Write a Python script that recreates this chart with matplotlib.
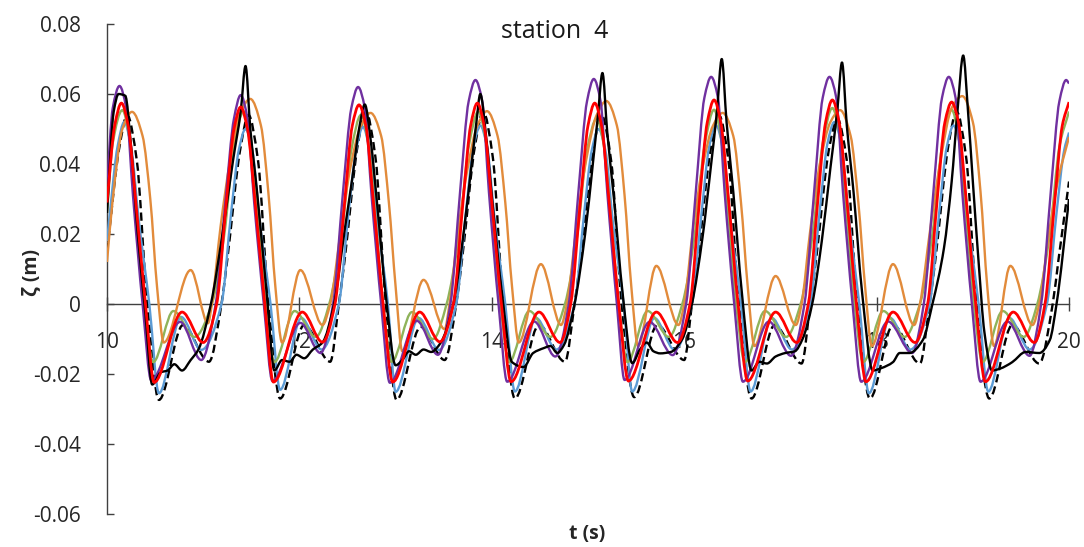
import numpy as np
import matplotlib
matplotlib.use("Agg")
import matplotlib.pyplot as plt
from matplotlib.path import Path
from matplotlib.patches import PathPatch

plt.rcParams["font.family"] = ["Open Sans", "DejaVu Sans"]

# ---- surface elevation records, station 4 (t in s, zeta in m) ----
t_black = [10.00, 10.07, 10.12, 10.19, 10.25, 10.32, 10.40, 10.47, 10.56, 10.63, 10.70, 10.78, 10.87, 10.95, 11.08,
           11.20, 11.31, 11.39, 11.44, 11.49, 11.56, 11.66, 11.74, 11.82, 11.90, 11.97, 12.05, 12.14, 12.24, 12.36,
           12.47, 12.55, 12.62, 12.68, 12.74, 12.81, 12.90, 13.00, 13.07, 13.14, 13.21, 13.29, 13.37, 13.47, 13.60,
           13.71, 13.79, 13.84, 13.88, 13.94, 14.01, 14.11, 14.21, 14.33, 14.43, 14.54, 14.61, 14.68, 14.75, 14.86,
           14.97, 15.05, 15.10, 15.15, 15.20, 15.27, 15.36, 15.46, 15.54, 15.61, 15.68, 15.75, 15.86, 15.98, 16.08,
           16.19, 16.28, 16.34, 16.39, 16.44, 16.51, 16.60, 16.70, 16.78, 16.86, 16.95, 17.05, 17.15, 17.23, 17.33,
           17.43, 17.52, 17.59, 17.64, 17.69, 17.76, 17.85, 17.96, 18.05, 18.17, 18.24, 18.34, 18.48, 18.58,
           18.70, 18.78, 18.84, 18.90, 18.95, 19.00, 19.06, 19.12, 19.20, 19.28, 19.35, 19.41, 19.55, 19.69, 19.80,
           19.87, 20.00]
z_black = [0.026, 0.055, 0.0600, 0.0595, 0.045, 0.020, -0.003, -0.0230, -0.0195, -0.0190, -0.0172, -0.0190, -0.0160, -0.0130, 0.0,
           0.020, 0.041, 0.055, 0.0680, 0.050, 0.032, 0.003, -0.0190, -0.0160, -0.0165, -0.0145, -0.0155, -0.0130, -0.0110, 0.0,
           0.021, 0.036, 0.050, 0.0570, 0.047, 0.028, 0.002, -0.0175, -0.0160, -0.0135, -0.0145, -0.0130, -0.0137, -0.0110, 0.0,
           0.021, 0.040, 0.052, 0.0600, 0.048, 0.028, 0.002, -0.0166, -0.0180, -0.0140, -0.0126, -0.0120, -0.0140, -0.0117, 0.0,
           0.020, 0.040, 0.053, 0.0660, 0.049, 0.030, 0.003, -0.0169, -0.0130, -0.0110, -0.0135, -0.0141, -0.0137, -0.0100, 0.0,
           0.019, 0.040, 0.055, 0.0700, 0.052, 0.032, 0.003, -0.0190, -0.0165, -0.0170, -0.0150, -0.0140, -0.0135, -0.0100, 0.0,
           0.018, 0.039, 0.055, 0.0690, 0.051, 0.032, 0.003, -0.0190, -0.0183, -0.0166, -0.0140, -0.0140, -0.0103, 0.0,
           0.016, 0.035, 0.055, 0.0710, 0.055, 0.035, 0.012, -0.008, -0.0190, -0.0185, -0.0176, -0.0166, -0.0137, -0.0140, -0.0103,
           0.0, 0.0300]

t_dashed = [10.00, 10.13, 10.21, 10.31, 10.41, 10.54, 10.79, 11.06,
            11.19, 11.25, 11.39, 11.47, 11.57, 11.67, 11.80, 12.05, 12.32,
            12.41, 12.47, 12.61, 12.69, 12.79, 12.89, 13.01, 13.26, 13.51,
            13.63, 13.69, 13.83, 13.91, 14.01, 14.11, 14.24, 14.49, 14.76,
            14.86, 14.92, 15.06, 15.14, 15.24, 15.34, 15.48, 15.72, 16.00,
            16.08, 16.14, 16.28, 16.36, 16.46, 16.56, 16.70, 16.94, 17.22,
            17.31, 17.37, 17.51, 17.59, 17.69, 17.79, 17.93, 18.17, 18.45,
            18.55, 18.61, 18.75, 18.83, 18.93, 19.03, 19.17, 19.41, 19.69,
            19.83, 19.89, 20.00]
z_dashed = [0.015, 0.045, 0.054, 0.041, 0.003, -0.0274, -0.0060, -0.0165,
            0.0, 0.0126, 0.045, 0.054, 0.041, 0.003, -0.0270, -0.0060, -0.0165,
            0.0, 0.0126, 0.046, 0.055, 0.042, 0.003, -0.0274, -0.0065, -0.0160,
            0.0, 0.0126, 0.046, 0.055, 0.042, 0.003, -0.0270, -0.0060, -0.0165,
            0.0, 0.0126, 0.045, 0.054, 0.041, 0.003, -0.0266, -0.0060, -0.0160,
            0.0, 0.0126, 0.045, 0.054, 0.041, 0.003, -0.0270, -0.0060, -0.0170,
            0.0, 0.0126, 0.045, 0.053, 0.041, 0.003, -0.0270, -0.0060, -0.0170,
            0.0, 0.0126, 0.046, 0.055, 0.042, 0.003, -0.0270, -0.0060, -0.0170,
            0.0, 0.0126, 0.035]

t_purple = [10.00, 10.06, 10.13, 10.20, 10.27, 10.37, 10.46, 10.76, 10.98,
            11.13, 11.23, 11.32, 11.39, 11.46, 11.53, 11.63, 11.72, 12.01, 12.22,
            12.35, 12.45, 12.54, 12.61, 12.68, 12.75, 12.85, 12.94, 13.22, 13.44,
            13.57, 13.67, 13.76, 13.83, 13.90, 13.97, 14.07, 14.16, 14.44, 14.66,
            14.80, 14.90, 14.99, 15.06, 15.13, 15.20, 15.30, 15.38, 15.64, 15.88,
            16.02, 16.12, 16.21, 16.28, 16.35, 16.42, 16.52, 16.61, 16.88, 17.11,
            17.25, 17.35, 17.44, 17.51, 17.58, 17.65, 17.75, 17.84, 18.12, 18.37,
            18.49, 18.59, 18.68, 18.75, 18.82, 18.89, 18.99, 19.08, 19.36, 19.59,
            19.71, 19.81, 19.90, 19.97, 20.00]
z_purple = [0.034, 0.056, 0.0623, 0.056, 0.031, 0.0, -0.0218, -0.0051, -0.0160,
            0.0, 0.029, 0.053, 0.0597, 0.053, 0.029, 0.0, -0.0220, -0.0054, -0.0140,
            0.0, 0.031, 0.056, 0.0620, 0.056, 0.031, 0.0, -0.0225, -0.0048, -0.0145,
            0.0, 0.032, 0.058, 0.0640, 0.058, 0.032, 0.0, -0.0222, -0.0050, -0.0150,
            0.0, 0.032, 0.058, 0.0643, 0.058, 0.032, 0.0, -0.0217, -0.0051, -0.0146,
            0.0, 0.032, 0.059, 0.0649, 0.059, 0.032, 0.0, -0.0222, -0.0050, -0.0148,
            0.0, 0.032, 0.059, 0.0649, 0.059, 0.032, 0.0, -0.0222, -0.0050, -0.0140,
            0.0, 0.032, 0.059, 0.0649, 0.059, 0.032, 0.0, -0.0222, -0.0050, -0.0148,
            0.0, 0.032, 0.058, 0.0640, 0.0630]

t_red = [10.00, 10.08, 10.15, 10.22, 10.30, 10.40, 10.49, 10.78, 11.00,
         11.14, 11.24, 11.32, 11.39, 11.46, 11.54, 11.64, 11.73, 12.03, 12.24,
         12.37, 12.47, 12.55, 12.62, 12.69, 12.77, 12.87, 12.97, 13.25, 13.46,
         13.60, 13.70, 13.78, 13.85, 13.92, 14.00, 14.10, 14.20, 14.49, 14.71,
         14.82, 14.92, 15.00, 15.07, 15.14, 15.22, 15.32, 15.42, 15.71, 15.93,
         16.06, 16.16, 16.24, 16.31, 16.38, 16.46, 16.56, 16.66, 16.95, 17.17,
         17.29, 17.39, 17.47, 17.54, 17.61, 17.69, 17.79, 17.89, 18.17, 18.40,
         18.53, 18.63, 18.71, 18.78, 18.85, 18.93, 19.03, 19.13, 19.42, 19.64,
         19.75, 19.85, 19.93, 20.00]
z_red = [0.029, 0.051, 0.0574, 0.051, 0.029, 0.0, -0.0224, -0.0023, -0.0110,
         0.0, 0.029, 0.050, 0.0563, 0.050, 0.029, 0.0, -0.0223, -0.0023, -0.0109,
         0.0, 0.029, 0.051, 0.0569, 0.051, 0.029, 0.0, -0.0223, -0.0023, -0.0108,
         0.0, 0.029, 0.051, 0.0574, 0.051, 0.029, 0.0, -0.0222, -0.0023, -0.0110,
         0.0, 0.029, 0.051, 0.0574, 0.051, 0.029, 0.0, -0.0220, -0.0023, -0.0110,
         0.0, 0.030, 0.052, 0.0583, 0.052, 0.030, 0.0, -0.0220, -0.0023, -0.0110,
         0.0, 0.030, 0.052, 0.0583, 0.052, 0.030, 0.0, -0.0222, -0.0023, -0.0110,
         0.0, 0.030, 0.052, 0.0577, 0.052, 0.030, 0.0, -0.0222, -0.0023, -0.0110,
         0.0, 0.029, 0.051, 0.0577]

t_green = [10.00, 10.06, 10.16, 10.23, 10.31, 10.39, 10.48, 10.69, 10.91,
           11.09, 11.22, 11.32, 11.42, 11.49, 11.57, 11.65, 11.74, 11.95, 12.17,
           12.31, 12.44, 12.54, 12.64, 12.71, 12.79, 12.87, 12.96, 13.17, 13.39,
           13.53, 13.66, 13.76, 13.86, 13.93, 14.01, 14.09, 14.18, 14.39, 14.61,
           14.76, 14.89, 14.99, 15.09, 15.16, 15.24, 15.32, 15.41, 15.62, 15.84,
           15.98, 16.11, 16.21, 16.31, 16.38, 16.46, 16.54, 16.63, 16.84, 17.06,
           17.21, 17.34, 17.44, 17.54, 17.61, 17.69, 17.77, 17.86, 18.07, 18.29,
           18.45, 18.58, 18.68, 18.78, 18.85, 18.93, 19.01, 19.10, 19.31, 19.53,
           19.67, 19.80, 19.90, 20.00]
z_green = [0.026, 0.046, 0.0554, 0.048, 0.025, 0.0, -0.0166, -0.0020, -0.0094,
           0.0, 0.020, 0.045, 0.0550, 0.048, 0.025, 0.0, -0.0166, -0.0020, -0.0094,
           0.0, 0.020, 0.044, 0.0540, 0.047, 0.025, 0.0, -0.0165, -0.0023, -0.0100,
           0.0, 0.020, 0.045, 0.0550, 0.048, 0.025, 0.0, -0.0166, -0.0020, -0.0094,
           0.0, 0.020, 0.044, 0.0530, 0.046, 0.024, 0.0, -0.0166, -0.0020, -0.0094,
           0.0, 0.020, 0.045, 0.0555, 0.048, 0.025, 0.0, -0.0166, -0.0020, -0.0094,
           0.0, 0.021, 0.046, 0.0560, 0.049, 0.025, 0.0, -0.0166, -0.0020, -0.0094,
           0.0, 0.020, 0.045, 0.0555, 0.048, 0.025, 0.0, -0.0166, -0.0020, -0.0094,
           0.0, 0.020, 0.045, 0.0550]

t_blue = [10.00, 10.03, 10.11, 10.18, 10.25, 10.33, 10.44, 10.54, 10.77, 10.98,
          11.19, 11.29, 11.37, 11.44, 11.51, 11.59, 11.70, 11.80, 12.02, 12.23,
          12.41, 12.51, 12.59, 12.66, 12.73, 12.81, 12.92, 13.00, 13.24, 13.45,
          13.63, 13.73, 13.81, 13.88, 13.95, 14.03, 14.14, 14.24, 14.46, 14.67,
          14.86, 14.96, 15.04, 15.11, 15.18, 15.26, 15.37, 15.46, 15.69, 15.90,
          16.08, 16.18, 16.26, 16.33, 16.40, 16.48, 16.59, 16.69, 16.91, 17.12,
          17.31, 17.41, 17.49, 17.56, 17.63, 17.71, 17.82, 17.92, 18.14, 18.35,
          18.55, 18.65, 18.73, 18.80, 18.87, 18.95, 19.06, 19.16, 19.38, 19.59,
          19.77, 19.87, 19.95, 20.00]
z_blue = [0.018, 0.026, 0.045, 0.0520, 0.045, 0.024, 0.0, -0.0255, -0.0037, -0.0131,
          0.0, 0.026, 0.044, 0.0500, 0.044, 0.023, 0.0, -0.0245, -0.0040, -0.0130,
          0.0, 0.026, 0.044, 0.0506, 0.044, 0.024, 0.0, -0.0251, -0.0040, -0.0131,
          0.0, 0.026, 0.045, 0.0510, 0.045, 0.024, 0.0, -0.0250, -0.0040, -0.0130,
          0.0, 0.026, 0.044, 0.0500, 0.044, 0.023, 0.0, -0.0250, -0.0040, -0.0131,
          0.0, 0.026, 0.045, 0.0510, 0.045, 0.024, 0.0, -0.0250, -0.0040, -0.0130,
          0.0, 0.027, 0.046, 0.0520, 0.046, 0.025, 0.0, -0.0255, -0.0040, -0.0130,
          0.0, 0.026, 0.045, 0.0510, 0.045, 0.024, 0.0, -0.0250, -0.0040, -0.0130,
          0.0, 0.026, 0.044, 0.0490]

t_orange = [10.00, 10.06, 10.16, 10.26, 10.37, 10.45, 10.52, 10.59, 10.87, 11.05,
            11.09, 11.18, 11.28, 11.39, 11.49, 11.60, 11.68, 11.75, 11.82, 12.01, 12.24,
            12.32, 12.43, 12.53, 12.64, 12.74, 12.85, 12.93, 13.00, 13.07, 13.29, 13.51,
            13.56, 13.65, 13.75, 13.85, 13.95, 14.06, 14.14, 14.21, 14.28, 14.51, 14.72,
            14.78, 14.88, 14.98, 15.09, 15.19, 15.30, 15.38, 15.45, 15.52, 15.71, 15.94,
            16.00, 16.09, 16.19, 16.30, 16.40, 16.51, 16.59, 16.66, 16.73, 16.95, 17.16,
            17.22, 17.31, 17.41, 17.52, 17.62, 17.73, 17.81, 17.88, 17.95, 18.17, 18.39,
            18.45, 18.56, 18.67, 18.78, 18.89, 19.00, 19.08, 19.15, 19.22, 19.39, 19.62,
            19.69, 19.79, 19.89, 20.00]
z_orange = [0.012, 0.030, 0.050, 0.0549, 0.048, 0.030, 0.005, -0.0110, 0.0097, -0.0055,
            0.0, 0.022, 0.041, 0.055, 0.0586, 0.051, 0.031, 0.005, -0.0110, 0.0097, -0.0060,
            0.0, 0.021, 0.039, 0.051, 0.0546, 0.048, 0.029, 0.005, -0.0135, 0.0069, -0.0072,
            0.0, 0.021, 0.039, 0.051, 0.0551, 0.048, 0.029, 0.005, -0.0110, 0.0114, -0.0060,
            0.0, 0.022, 0.041, 0.054, 0.0580, 0.051, 0.031, 0.005, -0.0120, 0.0109, -0.0060,
            0.0, 0.021, 0.039, 0.051, 0.0546, 0.048, 0.029, 0.005, -0.0120, 0.0080, -0.0060,
            0.0, 0.021, 0.040, 0.052, 0.0554, 0.048, 0.029, 0.005, -0.0120, 0.0114, -0.0060,
            0.0, 0.022, 0.042, 0.056, 0.0594, 0.052, 0.032, 0.005, -0.0120, 0.0109, -0.0060,
            0.0, 0.020, 0.036, 0.0477]

x_ticks = [10, 12, 14, 16, 18, 20]
x_tick_labels = ["10", "12", "14", "16", "18", "20"]
y_ticks = [-0.06, -0.04, -0.02, 0.0, 0.02, 0.04, 0.06, 0.08]
y_tick_labels = ["-0.06", "-0.04", "-0.02", "0", "0.02", "0.04", "0.06", "0.08"]


def monotone_slopes(x, y):
    """Fritsch-Carlson tangents so the smoothed line does not overshoot."""
    x = np.asarray(x, float)
    y = np.asarray(y, float)
    h = np.diff(x)
    delta = np.diff(y) / h
    d = np.zeros_like(y)
    for k in range(1, len(x) - 1):
        if delta[k - 1] * delta[k] > 0:
            w1 = 2 * h[k] + h[k - 1]
            w2 = h[k] + 2 * h[k - 1]
            d[k] = (w1 + w2) / (w1 / delta[k - 1] + w2 / delta[k])
    d[0] = delta[0]
    d[-1] = delta[-1]
    return d


def smoothed_line(ax, x, y, **kw):
    """Draw a smoothed line through the samples as cubic Bezier segments."""
    d = monotone_slopes(x, y)
    verts = [(x[0], y[0])]
    codes = [Path.MOVETO]
    for k in range(len(x) - 1):
        h = x[k + 1] - x[k]
        verts += [(x[k] + h / 3, y[k] + d[k] * h / 3),
                  (x[k + 1] - h / 3, y[k + 1] - d[k + 1] * h / 3),
                  (x[k + 1], y[k + 1])]
        codes += [Path.CURVE4] * 3
    patch = PathPatch(Path(verts, codes), fill=False, transform=ax.transData,
                      joinstyle="round", **kw)
    ax.add_patch(patch)


fig = plt.figure(figsize=(10.84, 5.47), dpi=100)
ax = fig.add_axes([0.0987, 0.0603, 0.8875, 0.8958])
ax.set_xlim(10, 20)
ax.set_ylim(-0.06, 0.08)
ax.set_axisbelow(True)

smoothed_line(ax, t_dashed, z_dashed, edgecolor="black", linewidth=1.7,
              linestyle=(0, (3.5, 1.8)), capstyle="butt", zorder=2)
smoothed_line(ax, t_blue, z_blue, edgecolor="#5B9BD5", linewidth=1.7, zorder=2.1)
smoothed_line(ax, t_green, z_green, edgecolor="#8FB35A", linewidth=1.7, zorder=2.2)
smoothed_line(ax, t_orange, z_orange, edgecolor="#E28B3B", linewidth=1.7, zorder=2.3)
smoothed_line(ax, t_purple, z_purple, edgecolor="#7030A0", linewidth=1.7, zorder=2.4)
smoothed_line(ax, t_black, z_black, edgecolor="black", linewidth=1.7, zorder=2.5)
smoothed_line(ax, t_red, z_red, edgecolor="#FF0000", linewidth=2.0, zorder=2.6)

axis_color = "#404040"
for side in ("top", "right"):
    ax.spines[side].set_visible(False)
ax.spines["bottom"].set_position(("data", 0))
for side in ("left", "bottom"):
    ax.spines[side].set_color(axis_color)
    ax.spines[side].set_linewidth(1.0)
    ax.spines[side].set_zorder(1)

ax.set_xticks(x_ticks)
ax.set_xticklabels(x_tick_labels)
ax.set_yticks(y_ticks)
ax.set_yticklabels(y_tick_labels)
ax.tick_params(axis="x", direction="inout", length=10, width=1.0, color=axis_color,
               labelsize=15, labelcolor="#262626", pad=15)
ax.tick_params(axis="y", direction="in", length=5, width=1.0, color=axis_color,
               labelsize=15, labelcolor="#262626", pad=19)

fig.text(555 / 1084, 1 - 31 / 547, "station  4", fontsize=18, color="#1a1a1a",
         ha="center", va="center")
fig.text(587 / 1084, 1 - 534 / 547, "t (s)", fontsize=14, fontweight="bold",
         color="#262626", ha="center", va="center")
fig.text(31 / 1084, 1 - 272 / 547, "ζ (m)", fontsize=14, fontweight="bold",
         color="#262626", ha="center", va="center", rotation=90)

fig.savefig("out.png", dpi=100)
